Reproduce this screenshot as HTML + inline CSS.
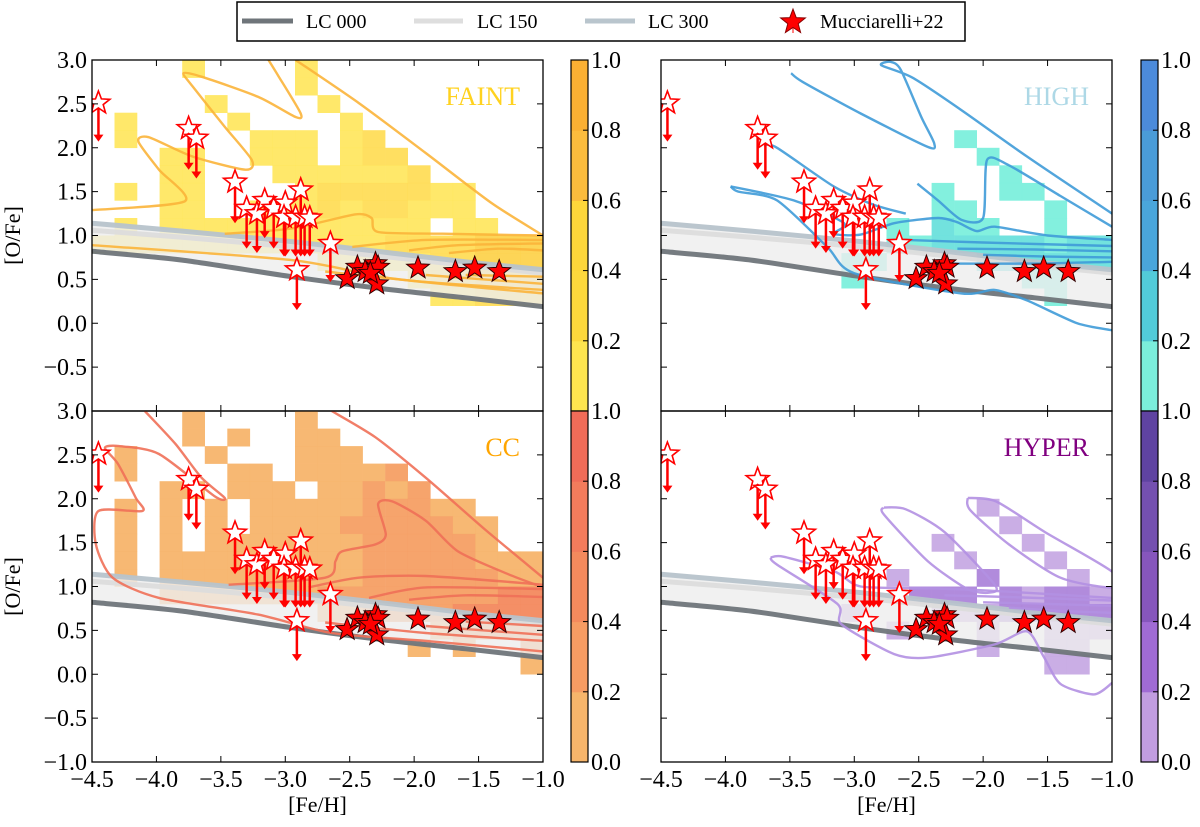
<!DOCTYPE html>
<html><head><meta charset="utf-8">
<style>
html,body{margin:0;padding:0;background:#fff;}
svg{display:block;}
text{font-family:"Liberation Serif","DejaVu Serif",serif;}
</style></head>
<body>
<svg id="fig" width="1200" height="827" viewBox="0 0 1200 827" xmlns="http://www.w3.org/2000/svg">
  <g>
    <rect x="237" y="2" width="728" height="39" fill="#fff" stroke="#000" stroke-width="1.5"/>
    <line x1="242" y1="21" x2="293" y2="21" stroke="#6f757a" stroke-width="5"/>
    <text x="306" y="28" font-size="20">LC 000</text>
    <line x1="414" y1="21" x2="463" y2="21" stroke="#dedede" stroke-width="5"/>
    <text x="477" y="28" font-size="20">LC 150</text>
    <line x1="585" y1="21" x2="635" y2="21" stroke="#b9c5cd" stroke-width="5"/>
    <text x="648" y="28" font-size="20">LC 300</text>
    <g id="legstar"></g>
    <text x="820" y="28" font-size="20">Mucciarelli+22</text>
  </g>
  <g id="plots"></g>
</svg>
<script>
// ---------- data ----------
const xTicks = [-4.5,-4.0,-3.5,-3.0,-2.5,-2.0,-1.5,-1.0];
const yTicks = [3.0,2.5,2.0,1.5,1.0,0.5,0.0,-0.5,-1.0];
const cbTicks = [1.0,0.8,0.6,0.4,0.2,0.0];

const openFeH = [-4.45,-3.75,-3.69,-3.39,-3.30,-3.22,-3.16,-3.09,-3.00,-3.01,-2.88,-2.92,-2.85,-2.81,-2.91,-2.65];
const openOFe = [2.51,2.22,2.11,1.61,1.31,1.25,1.40,1.31,1.37,1.21,1.52,1.21,1.21,1.20,0.61,0.91];
const openTip = [2.07,1.75,1.65,1.14,0.85,0.80,0.97,0.85,0.76,0.76,0.76,0.76,0.76,0.76,0.15,0.47];
const fillFeH = [-2.52,-2.44,-2.38,-2.30,-2.28,-2.29,-2.34,-1.97,-1.68,-1.53,-1.34];
const fillOFe = [0.51,0.64,0.59,0.68,0.64,0.45,0.57,0.63,0.59,0.63,0.59];

const lcFeH = [-4.5,-3.8,-2.95,-2.17,-1.6,-1.0];
const lc000 = [0.82,0.72,0.53,0.38,0.29,0.19];
const lc150 = [1.06,0.98,0.87,0.75,0.66,0.57];
const lc300 = [1.14,1.05,0.93,0.80,0.70,0.61];

const heatFaint = [
"....1....1..........",
".........1..........",
".....1....1.........",
".1....1....1........",
".1.....111.12.......",
"...11..111.122......",
"...11...1111112.....",
".1.11....12222211...",
"...11..1112122111...",
".1.111111111111.11..",
"11111111111112222333",
"..........1111122333",
"..............122333",
"...............11222"];
const heatHigh = [
"....................",
"....................",
"....................",
"....................",
".............1......",
"..............1.....",
"...............1....",
"............1..11...",
"............11...1..",
"..........1.211..1..",
"..........1122222122",
"........11....222222",
"........1.......11..",
".................1.."];
const heatCC = [
"....1....1..........",
"....1.1..11.........",
".1...1...111........",
".1....11.11112......",
"...11.111.11212.....",
".1.1.1.1111122211...",
".1.1.1.11112222211..",
".1.1.1111111222221..",
".1.11111111122222111",
".1.11111111122222211",
"...11111112222222233",
"..........1122223333",
"...............12222",
"..............1.1..2",
"...................1"];
const heatHyper = [
"....................",
"....................",
"....................",
"....................",
"....................",
"..............1.....",
"...............1....",
"............1...1...",
".............1...1..",
"..........1...2...1.",
"...........222.21221",
"........1...11122222",
"..........1...1..111",
"..............1..11.",
".................11."];

const contFaint = [
 [[-4.5,1.29],[-3.78,1.39],[-3.98,1.75],[-4.14,2.07],[-4.06,2.12],[-3.72,1.90],[-3.31,1.75],[-3.26,1.86],[-3.47,2.24],[-3.72,2.70],[-3.79,2.85],[-3.65,2.81],[-3.21,2.58],[-2.92,2.35],[-2.88,2.39],[-3.05,2.81],[-3.13,3.0]],
 [[-2.92,3.0],[-2.43,2.51],[-1.91,1.94],[-1.40,1.37],[-1.0,1.0]],
 [[-3.47,1.02],[-2.95,1.08],[-2.46,1.24],[-2.33,1.20],[-2.28,1.04],[-1.78,1.02],[-1.0,1.0]],
 [[-2.48,0.87],[-1.91,0.95],[-1.0,0.95]],
 [[-2.04,0.83],[-1.66,0.89],[-1.0,0.91]],
 [[-1.73,0.80],[-1.35,0.85],[-1.0,0.83]],
 [[-4.5,0.89],[-2.95,0.72],[-2.17,0.51],[-1.0,0.34]],
 [[-2.69,0.59],[-1.91,0.47],[-1.0,0.38]],
 [[-1.91,0.55],[-1.0,0.45]],
 [[-1.6,0.55],[-1.0,0.53]]];
const contHigh = [
 [[-3.49,2.85],[-3.4,2.75],[-2.95,2.39],[-2.43,2.01],[-2.38,2.05],[-2.48,2.35],[-2.64,2.89],[-2.72,2.98],[-2.79,2.94],[-2.55,2.8],[-2.17,2.43],[-1.66,1.90],[-1.0,1.25]],
 [[-3.70,2.03],[-3.6,2.0],[-3.16,1.56],[-2.85,1.35],[-2.6,1.25]],
 [[-2.51,1.59],[-2.35,1.40],[-2.17,1.18],[-2.0,1.2],[-1.97,1.86],[-1.8,1.8],[-1.4,1.45],[-1.0,1.1]],
 [[-3.96,1.56],[-3.47,1.40],[-3.08,1.14],[-3.16,1.02],[-2.95,1.01],[-2.69,1.14],[-2.35,1.2],[-2.2,1.15],[-2.05,1.05],[-1.91,1.1],[-1.5,1.0],[-1.0,0.95]],
 [[-3.96,1.56],[-3.9,1.5],[-3.6,1.4],[-3.21,0.87],[-3.0,0.57],[-2.17,0.34],[-1.91,0.38],[-1.66,0.26],[-1.27,0.0],[-1.0,-0.08]],
 [[-2.6,0.95],[-2.0,0.92],[-1.0,0.88]],
 [[-2.2,0.85],[-1.6,0.84],[-1.0,0.82]],
 [[-2.0,0.78],[-1.5,0.76],[-1.0,0.75]],
 [[-2.3,0.68],[-1.6,0.68],[-1.0,0.7]]];
const contCC = [
 [[-4.09,3.0],[-3.85,2.62],[-3.65,2.24],[-3.47,2.01],[-3.55,2.03],[-3.98,2.51],[-4.29,2.60],[-4.40,2.58],[-4.3,2.4],[-4.16,2.01],[-4.11,1.86],[-4.45,1.86],[-4.47,1.48],[-4.34,1.10],[-3.98,0.87],[-3.21,0.68],[-2.64,0.47],[-1.91,0.38],[-1.0,0.26]],
 [[-2.64,3.0],[-2.3,2.7],[-1.91,2.24],[-1.45,1.65],[-1.0,1.1]],
 [[-3.44,1.02],[-2.69,1.10],[-2.61,1.29],[-2.56,1.40],[-2.30,1.48],[-2.22,1.59],[-2.28,1.94],[-2.17,1.97],[-1.91,1.75],[-1.66,1.40],[-1.27,1.14],[-1.0,0.99]],
 [[-2.82,0.99],[-2.43,1.10],[-1.91,1.12],[-1.0,1.02]],
 [[-2.35,0.87],[-1.91,0.99],[-1.0,0.97]],
 [[-2.04,0.85],[-1.6,0.9],[-1.0,0.88]],
 [[-2.69,0.59],[-1.91,0.47],[-1.0,0.38]],
 [[-1.91,0.55],[-1.0,0.45]],
 [[-1.6,0.6],[-1.0,0.55]]];
const contHyper = [
 [[-2.77,1.90],[-2.6,1.88],[-2.30,1.62],[-1.91,1.02],[-1.95,0.93],[-2.12,0.97],[-2.43,1.29],[-2.77,1.82],[-2.77,1.90]],
 [[-2.12,2.01],[-1.9,1.97],[-1.52,1.62],[-1.0,1.17],[-1.0,0.99],[-1.4,1.1],[-1.8,1.48],[-2.1,1.87],[-2.12,2.01]],
 [[-3.65,1.33],[-3.55,1.34],[-3.15,1.17],[-2.95,1.0],[-2.43,0.98],[-1.91,0.95],[-1.0,0.87]],
 [[-3.65,1.33],[-3.6,1.25],[-3.13,0.80],[-3.10,0.57],[-2.69,0.23],[-2.43,0.19],[-1.91,0.34],[-1.66,0.49],[-1.53,0.2],[-1.40,-0.11],[-1.14,-0.23],[-1.0,-0.1]],
 [[-2.3,0.9],[-1.8,0.88],[-1.0,0.84]],
 [[-2.0,0.82],[-1.5,0.8],[-1.0,0.78]],
 [[-1.8,0.76],[-1.4,0.72],[-1.0,0.7]]];

// ---------- style ----------
const panels = [
 {key:'faint', x0:92, y0:60, heat:heatFaint, cont:contFaint, cellCol:['#ffe55a','#ffdc50','#fdd045'], cellOp:0.9, contCol:'#fbb43a', title:'FAINT', titleCol:'#ffd21f', left:true, bottom:false},
 {key:'high', x0:661, y0:60, heat:heatHigh, cont:contHigh, cellCol:['#7cefdc','#6ae0dc','#58cfdc'], cellOp:0.95, contCol:'#3f9bd8', title:'HIGH', titleCol:'#add8e6', left:false, bottom:false},
 {key:'cc', x0:92, y0:411, heat:heatCC, cont:contCC, cellCol:['#f7b46b','#f59f64','#f3895e'], cellOp:0.95, contCol:'#f07058', title:'CC', titleCol:'#ffa500', left:true, bottom:true},
 {key:'hyper', x0:661, y0:411, heat:heatHyper, cont:contHyper, cellCol:['#c4a5e2','#a97ed8','#8a5cc4'], cellOp:0.9, contCol:'#b390e2', title:'HYPER', titleCol:'#800080', left:false, bottom:true}
];
const cbars = [
 {x:571, y0:60, cols:['#fee54f','#fdd83c','#fdd63a','#fbbc3d','#fbb033'], name:'faint', showZero:false},
 {x:571, y0:411, cols:['#f6b56b','#f69c63','#f48a5d','#f37c5c','#f16c58'], name:'cc', showZero:true},
 {x:1141, y0:60, cols:['#7beedb','#52cbd9','#4aa6db','#4a9cd8','#4c8bdb'], name:'high', showZero:false},
 {x:1141, y0:411, cols:['#c19de0','#a06bd4','#8656bc','#7450b0','#5f43a1'], name:'hyper', showZero:true}
];
const W=451, H=351;
const NS='http://www.w3.org/2000/svg';
const root=document.getElementById('plots');
function el(tag,parent){const e=document.createElementNS(NS,tag);parent.appendChild(e);return e;}
function fmt(v){return (v<0?'\u2212':'')+Math.abs(v).toFixed(1);}
function starPts(cx,cy,R){const r=R*0.42;let p=[];for(let i=0;i<10;i++){const a=-Math.PI/2+i*Math.PI/5;const rr=i%2?r:R;p.push((cx+rr*Math.cos(a)).toFixed(1)+','+(cy+rr*Math.sin(a)).toFixed(1));}return p.join(' ');}
function smooth(pts){const k=8;let d='M'+pts[0][0].toFixed(1)+','+pts[0][1].toFixed(1);for(let i=0;i<pts.length-1;i++){const p0=pts[Math.max(i-1,0)],p1=pts[i],p2=pts[i+1],p3=pts[Math.min(i+2,pts.length-1)];const c1=[p1[0]+(p2[0]-p0[0])/k,p1[1]+(p2[1]-p0[1])/k],c2=[p2[0]-(p3[0]-p1[0])/k,p2[1]-(p3[1]-p1[1])/k];d+=' C'+c1[0].toFixed(1)+','+c1[1].toFixed(1)+' '+c2[0].toFixed(1)+','+c2[1].toFixed(1)+' '+p2[0].toFixed(1)+','+p2[1].toFixed(1);}return d;}

(function(){const g=document.getElementById('legstar');
const l=el('line',g);l.setAttribute('x1',793);l.setAttribute('x2',793);l.setAttribute('y1',10);l.setAttribute('y2',33);l.setAttribute('stroke','#f55');l.setAttribute('stroke-width',1.5);
const s=el('polygon',g);


s.setAttribute('points',starPts(793,22,13));s.setAttribute('fill','#f00');s.setAttribute('stroke','#800');s.setAttribute('stroke-width',1);})();

panels.forEach((P,pi)=>{
 const sx=f=>P.x0+(f+4.5)/3.5*W;
 const sy=o=>P.y0+(3-o)/4*H;
 const g=el('g',root);
 
 
 const cp=el('clipPath',g);cp.setAttribute('id','clip'+pi);
 const cr=el('rect',cp);cr.setAttribute('x',P.x0);cr.setAttribute('y',P.y0);cr.setAttribute('width',W);cr.setAttribute('height',H);
 const inner=el('g',g);inner.setAttribute('clip-path','url(#clip'+pi+')');
 P.heat.forEach((row,r)=>{for(let c=0;c<row.length;c++){const ch=row[c];if(ch==='.')continue;const lv=+ch-1;
   const f0=-4.5+c*0.175,o0=3-r*0.2;
   const rc=el('rect',inner);
   
   
   rc.setAttribute('x',sx(f0).toFixed(1));rc.setAttribute('y',sy(o0).toFixed(1));
   rc.setAttribute('width',(sx(f0+0.175)-sx(f0)+0.3).toFixed(1));rc.setAttribute('height',(sy(o0-0.2)-sy(o0)+0.3).toFixed(1));
   rc.setAttribute('fill',P.cellCol[lv]);rc.setAttribute('opacity',P.cellOp);}});
 let top=lcFeH.map((f,i)=>[sx(f),sy(lc300[i])]);let bot=lcFeH.map((f,i)=>[sx(f),sy(lc000[i])]).reverse();
 const band=el('path',inner);
 
 
 band.setAttribute('d',smooth(top)+' L'+bot.map(p=>p[0].toFixed(1)+','+p[1].toFixed(1)).join(' L')+' Z');
 band.setAttribute('fill','#eeeeee');band.setAttribute('opacity',0.8);
 [[lc150,'#dcdcdc','lc150-curve'],[lc300,'#b7c3cb','lc300-curve'],[lc000,'#6f757a','lc000-curve']].forEach(([arr,col,nm])=>{
   const pl=el('path',inner);
   
   
   pl.setAttribute('d',smooth(lcFeH.map((f,i)=>[sx(f),sy(arr[i])])));
   pl.setAttribute('fill','none');pl.setAttribute('stroke',col);pl.setAttribute('stroke-width',5);pl.setAttribute('opacity',0.95);});
 P.cont.forEach(pts=>{const cp2=el('path',inner);
   
   
   cp2.setAttribute('d',smooth(pts.map(p=>[sx(p[0]),sy(p[1])])));
   cp2.setAttribute('fill','none');cp2.setAttribute('stroke',P.contCol);cp2.setAttribute('stroke-width',2.4);cp2.setAttribute('opacity',0.9);});
 openFeH.forEach((f,i)=>{const x=sx(f),y=sy(openOFe[i]),yt=sy(openTip[i]);
   const ln=el('line',inner);
   
   
   ln.setAttribute('x1',x);ln.setAttribute('x2',x);ln.setAttribute('y1',y);ln.setAttribute('y2',yt-5);ln.setAttribute('stroke','#f00');ln.setAttribute('stroke-width',2.5);
   const hd=el('polygon',inner);
   
   
   hd.setAttribute('points',(x-5)+','+(yt-7)+' '+(x+5)+','+(yt-7)+' '+x+','+yt);hd.setAttribute('fill','#f00');});
 openFeH.forEach((f,i)=>{const st=el('polygon',inner);
   
   
   st.setAttribute('points',starPts(sx(f),sy(openOFe[i]),12));st.setAttribute('fill','#fff');st.setAttribute('stroke','#f00');st.setAttribute('stroke-width',1.6);});
 fillFeH.forEach((f,i)=>{const st=el('polygon',inner);
   
   
   st.setAttribute('points',starPts(sx(f),sy(fillOFe[i]),12));st.setAttribute('fill','#f00');st.setAttribute('stroke','#300');st.setAttribute('stroke-width',1);});
 const t=el('text',g);
 
 
 t.setAttribute('x',P.x0+W-23);t.setAttribute('y',P.y0+45);t.setAttribute('text-anchor','end');t.setAttribute('font-size',26);t.setAttribute('fill',P.titleCol);t.textContent=P.title;
 const fr=el('rect',g);
 
 
 fr.setAttribute('x',P.x0);fr.setAttribute('y',P.y0);fr.setAttribute('width',W);fr.setAttribute('height',H);fr.setAttribute('fill','none');fr.setAttribute('stroke','#000');fr.setAttribute('stroke-width',1.3);
 xTicks.forEach(v=>{const x=sx(v);[[P.y0+H,-6],[P.y0,6]].forEach(([y,d])=>{const tk=el('line',g);
   
   
   tk.setAttribute('x1',x);tk.setAttribute('x2',x);tk.setAttribute('y1',y);tk.setAttribute('y2',y+d);tk.setAttribute('stroke','#000');tk.setAttribute('stroke-width',1);});
   if(P.bottom){const tl=el('text',g);
     
     
     tl.setAttribute('x',x);tl.setAttribute('y',P.y0+H+25);tl.setAttribute('text-anchor','middle');tl.setAttribute('font-size',24);tl.textContent=fmt(v);}});
 yTicks.forEach(v=>{const y=sy(v);[[P.x0,6],[P.x0+W,-6]].forEach(([x,d])=>{const tk=el('line',g);
   
   
   tk.setAttribute('x1',x);tk.setAttribute('x2',x+d);tk.setAttribute('y1',y);tk.setAttribute('y2',y);tk.setAttribute('stroke','#000');tk.setAttribute('stroke-width',1);});
   if(P.left && !(v===-1.0 && !P.bottom)){const tl=el('text',g);
     
     
     tl.setAttribute('x',P.x0-5);tl.setAttribute('y',y+8);tl.setAttribute('text-anchor','end');tl.setAttribute('font-size',24);tl.textContent=fmt(v);}});
 if(P.left){const yl=el('text',g);
   
   
   yl.setAttribute('transform','translate(20,'+(P.y0+H/2)+') rotate(-90)');yl.setAttribute('text-anchor','middle');yl.setAttribute('font-size',22);yl.textContent='[O/Fe]';}
 if(P.bottom){const xl=el('text',g);
   
   
   xl.setAttribute('x',P.x0+W/2);xl.setAttribute('y',P.y0+H+50);xl.setAttribute('text-anchor','middle');xl.setAttribute('font-size',22);xl.textContent='[Fe/H]';}
});

cbars.forEach(C=>{const g=el('g',root);
 
 
 const cw=17, ch=H;
 C.cols.forEach((col,i)=>{const r=el('rect',g);
   
   
   r.setAttribute('x',C.x);r.setAttribute('y',C.y0+ch-(i+1)*ch/5);r.setAttribute('width',cw);r.setAttribute('height',ch/5+0.5);r.setAttribute('fill',col);});
 const fr=el('rect',g);fr.setAttribute('x',C.x);fr.setAttribute('y',C.y0);fr.setAttribute('width',cw);fr.setAttribute('height',ch);fr.setAttribute('fill','none');fr.setAttribute('stroke','#000');fr.setAttribute('stroke-width',1.2);
 cbTicks.forEach(v=>{const y=C.y0+(1-v)*ch;
   if(v>0&&v<1){const tk=el('line',g);tk.setAttribute('x1',C.x+cw-5);tk.setAttribute('x2',C.x+cw);tk.setAttribute('y1',y);tk.setAttribute('y2',y);tk.setAttribute('stroke','#000');}
   if(v===0&&!C.showZero)return;
   const tl=el('text',g);
   
   
   tl.setAttribute('x',C.x+cw+3);tl.setAttribute('y',y+8);tl.setAttribute('font-size',24);tl.textContent=v.toFixed(1);});
});
</script>
</body></html>
